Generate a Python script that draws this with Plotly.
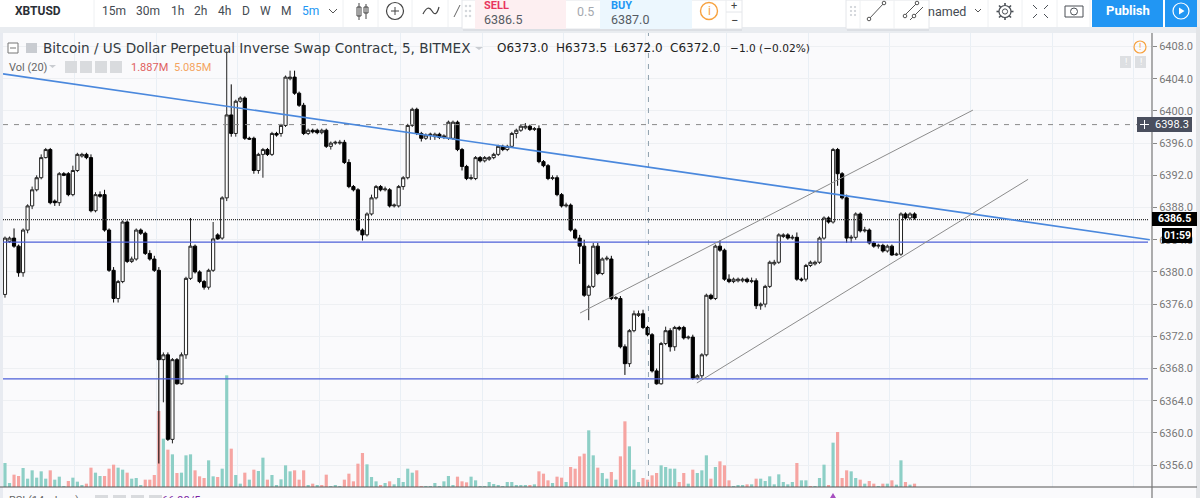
import math

import plotly.graph_objects as go

W = 1200
H = 498

# candles, one entry per 5 minute bar
opens = [
    6377.2, 6383.8, 6384.2, 6383.2, 6379.9, 6385.2, 6388.2, 6390.2, 6391.7, 6394.2,
    6395.2, 6388.8, 6388.6, 6392.2, 6392.2, 6389.6, 6392.6, 6394.4, 6394.6, 6394.2,
    6387.6, 6389.6, 6389.6, 6385.2, 6380.2, 6376.7, 6378.8, 6386.2, 6381.3, 6381.6,
    6385.2, 6384.8, 6382.3, 6381.6, 6380.2, 6369.1, 6369.7, 6359.2, 6369.1, 6366.1,
    6369.7, 6379.2, 6383.2, 6380.0, 6378.8, 6378.1, 6380.2, 6384.6, 6384.2, 6389.2,
    6399.5, 6397.2, 6401.2, 6401.6, 6396.6, 6396.6, 6392.6, 6394.6, 6395.2, 6394.6,
    6397.2, 6397.2, 6398.2, 6404.0, 6404.2, 6402.2, 6400.7, 6397.2, 6397.6, 6397.6,
    6397.3, 6397.6, 6395.6, 6396.0, 6396.0, 6396.1, 6393.6, 6390.6, 6390.2, 6385.2,
    6384.6, 6387.2, 6389.2, 6390.6, 6390.2, 6390.2, 6388.2, 6388.2, 6390.6, 6391.7,
    6398.2, 6400.2, 6397.2, 6396.6, 6397.0, 6396.8, 6397.1, 6396.7, 6396.6, 6396.6,
    6398.6, 6395.2, 6393.1, 6391.6, 6391.6, 6394.2, 6393.8, 6394.0, 6394.2, 6394.6,
    6395.6, 6395.2, 6395.6, 6397.2, 6397.6, 6397.9, 6398.1, 6397.7, 6397.8, 6393.7,
    6393.2, 6391.6, 6391.7, 6389.6, 6388.2, 6388.3, 6385.2, 6384.2, 6383.2, 6377.1,
    6378.2, 6383.2, 6379.8, 6381.6, 6381.6, 6376.7, 6376.7, 6370.7, 6368.6, 6372.7,
    6374.6, 6374.8, 6373.1, 6372.2, 6367.7, 6366.1, 6371.1, 6372.7, 6370.7, 6373.1,
    6373.1, 6371.8, 6371.9, 6366.8, 6367.1, 6369.7, 6377.1, 6376.7, 6383.2, 6382.7,
    6379.1, 6378.8, 6378.9, 6378.9, 6379.1, 6378.8, 6378.9, 6375.8, 6376.0, 6378.2,
    6381.0, 6381.2, 6384.4, 6384.6, 6384.2, 6384.3, 6379.1, 6379.1, 6380.8, 6381.0,
    6381.2, 6384.2, 6386.7, 6386.2, 6395.2, 6392.2, 6389.2, 6384.2, 6384.3, 6387.2,
    6385.1, 6385.2, 6383.6, 6383.2, 6383.3, 6382.6, 6383.2, 6382.1, 6382.2, 6387.2,
    6386.7, 6387.2,
]
closes = [
    6384.2, 6384.2, 6383.2, 6379.9, 6385.2, 6388.2, 6390.2, 6391.7, 6394.2, 6395.2,
    6388.6, 6388.6, 6392.2, 6392.0, 6389.6, 6392.6, 6394.6, 6394.6, 6394.2, 6387.6,
    6389.6, 6389.4, 6385.2, 6380.2, 6376.7, 6378.8, 6386.2, 6381.3, 6381.6, 6385.2,
    6384.8, 6382.3, 6381.6, 6380.2, 6369.1, 6369.7, 6359.2, 6369.1, 6366.1, 6369.7,
    6379.2, 6383.2, 6380.0, 6378.8, 6378.1, 6380.2, 6384.1, 6384.1, 6389.2, 6399.5,
    6397.2, 6401.2, 6401.6, 6396.6, 6396.5, 6392.6, 6394.6, 6395.2, 6394.6, 6397.2,
    6397.0, 6398.2, 6404.2, 6404.2, 6402.2, 6400.7, 6397.2, 6397.6, 6397.4, 6397.3,
    6397.6, 6395.6, 6396.0, 6396.1, 6396.1, 6393.6, 6390.6, 6390.2, 6385.2, 6384.6,
    6387.2, 6389.2, 6390.6, 6390.2, 6390.3, 6388.2, 6388.3, 6390.6, 6391.7, 6398.2,
    6400.2, 6397.2, 6396.6, 6397.0, 6397.1, 6397.1, 6396.7, 6396.9, 6398.6, 6398.6,
    6395.2, 6393.1, 6391.6, 6391.7, 6394.2, 6393.8, 6394.2, 6394.2, 6394.6, 6395.6,
    6395.2, 6395.6, 6397.2, 6397.6, 6398.1, 6398.1, 6397.7, 6397.8, 6393.7, 6393.2,
    6391.6, 6391.7, 6389.6, 6388.2, 6388.3, 6385.2, 6384.2, 6383.2, 6377.1, 6378.2,
    6383.2, 6379.8, 6381.6, 6381.7, 6376.7, 6376.8, 6370.7, 6368.6, 6372.7, 6374.8,
    6374.8, 6373.1, 6372.2, 6367.7, 6366.1, 6371.1, 6372.7, 6370.7, 6373.1, 6372.9,
    6371.8, 6371.9, 6366.8, 6367.1, 6369.7, 6377.1, 6376.7, 6383.2, 6382.7, 6379.1,
    6378.8, 6379.1, 6379.1, 6379.1, 6378.8, 6378.9, 6375.8, 6376.0, 6378.2, 6381.2,
    6381.2, 6384.6, 6384.6, 6384.2, 6384.3, 6379.1, 6379.0, 6380.8, 6381.2, 6381.2,
    6384.2, 6386.7, 6386.2, 6395.2, 6392.2, 6389.2, 6384.2, 6384.3, 6387.2, 6385.1,
    6385.2, 6383.6, 6383.2, 6383.3, 6382.6, 6383.2, 6382.1, 6382.2, 6387.2, 6386.7,
    6387.2, 6386.7,
]
highs = [
    6384.4, 6384.4, 6385.4, 6383.4, 6385.4, 6388.4, 6390.6, 6392.0, 6394.6, 6395.4,
    6395.4, 6389.0, 6392.4, 6392.4, 6392.4, 6393.2, 6394.8, 6394.8, 6394.8, 6394.6,
    6389.9, 6390.0, 6390.2, 6385.4, 6380.6, 6379.0, 6386.4, 6386.4, 6381.9, 6385.4,
    6385.4, 6385.0, 6382.7, 6382.0, 6380.6, 6370.0, 6370.0, 6369.3, 6369.3, 6370.0,
    6379.4, 6386.7, 6383.4, 6380.2, 6379.0, 6380.4, 6386.2, 6384.8, 6389.4, 6407.4,
    6403.3, 6401.4, 6401.8, 6401.8, 6396.8, 6396.8, 6394.8, 6395.4, 6395.4, 6397.4,
    6397.4, 6398.4, 6404.4, 6405.0, 6405.0, 6402.4, 6401.0, 6397.8, 6397.8, 6397.8,
    6397.8, 6397.8, 6396.2, 6396.3, 6396.4, 6396.4, 6394.0, 6390.8, 6390.4, 6385.4,
    6387.4, 6389.6, 6390.8, 6390.8, 6390.6, 6390.4, 6388.5, 6390.8, 6391.9, 6398.4,
    6400.4, 6400.4, 6397.4, 6397.2, 6397.3, 6397.3, 6397.3, 6397.1, 6398.8, 6398.8,
    6398.8, 6395.4, 6393.3, 6392.1, 6394.4, 6394.4, 6394.4, 6394.4, 6394.8, 6395.8,
    6395.8, 6395.8, 6397.4, 6397.8, 6398.3, 6398.5, 6398.3, 6398.0, 6398.2, 6393.9,
    6393.4, 6392.0, 6392.0, 6389.8, 6388.6, 6388.5, 6385.4, 6384.6, 6384.0, 6378.4,
    6383.6, 6383.6, 6381.8, 6382.0, 6382.0, 6377.0, 6377.0, 6371.0, 6372.9, 6375.2,
    6375.2, 6375.3, 6373.3, 6372.4, 6368.0, 6371.3, 6373.2, 6373.0, 6373.3, 6373.3,
    6373.3, 6372.1, 6372.2, 6367.3, 6369.9, 6377.3, 6377.3, 6383.4, 6383.9, 6382.9,
    6379.7, 6379.3, 6379.3, 6379.3, 6379.3, 6379.3, 6379.2, 6376.2, 6378.4, 6381.4,
    6381.5, 6384.8, 6384.8, 6384.8, 6384.6, 6384.9, 6379.3, 6381.0, 6381.4, 6381.4,
    6384.4, 6386.9, 6386.9, 6395.4, 6395.4, 6392.4, 6389.6, 6384.6, 6387.4, 6387.4,
    6385.6, 6385.4, 6383.8, 6383.5, 6383.5, 6383.4, 6383.4, 6382.4, 6387.4, 6387.4,
    6387.4, 6387.4,
]
lows = [
    6376.8, 6383.6, 6383.0, 6379.4, 6379.4, 6384.8, 6387.8, 6390.0, 6391.5, 6394.1,
    6388.4, 6388.2, 6388.2, 6391.9, 6389.4, 6389.4, 6392.4, 6394.2, 6394.0, 6387.4,
    6387.4, 6389.2, 6385.0, 6380.0, 6376.2, 6376.2, 6378.6, 6381.1, 6381.1, 6381.4,
    6384.6, 6382.1, 6381.4, 6380.0, 6356.2, 6363.8, 6359.0, 6358.7, 6366.0, 6366.0,
    6369.2, 6379.0, 6379.8, 6378.6, 6377.8, 6377.8, 6380.0, 6384.0, 6384.0, 6388.8,
    6396.8, 6396.8, 6401.0, 6396.4, 6396.4, 6392.2, 6392.2, 6391.7, 6394.4, 6394.4,
    6396.8, 6396.8, 6398.0, 6403.8, 6402.0, 6400.5, 6397.0, 6397.0, 6397.2, 6397.1,
    6397.1, 6395.4, 6395.2, 6395.8, 6395.8, 6393.4, 6390.4, 6390.0, 6385.0, 6383.9,
    6384.4, 6387.0, 6389.0, 6390.0, 6390.0, 6388.0, 6388.0, 6388.0, 6390.2, 6391.5,
    6398.0, 6397.0, 6396.2, 6396.4, 6396.4, 6396.4, 6396.5, 6396.5, 6396.4, 6396.4,
    6395.0, 6392.6, 6391.4, 6391.4, 6391.4, 6393.6, 6393.6, 6393.8, 6394.0, 6394.4,
    6395.0, 6395.0, 6395.4, 6396.6, 6397.4, 6397.7, 6397.5, 6397.5, 6393.5, 6393.0,
    6391.4, 6391.4, 6389.4, 6388.0, 6388.0, 6385.0, 6384.0, 6381.0, 6376.9, 6374.0,
    6378.0, 6379.6, 6379.6, 6381.4, 6376.5, 6376.5, 6370.5, 6367.2, 6368.2, 6372.5,
    6374.4, 6372.9, 6372.0, 6367.5, 6366.0, 6366.0, 6370.9, 6370.1, 6370.2, 6372.7,
    6371.6, 6371.6, 6366.6, 6366.6, 6366.8, 6369.5, 6376.5, 6376.5, 6382.5, 6378.9,
    6378.6, 6378.6, 6378.7, 6378.7, 6378.6, 6378.6, 6375.4, 6375.3, 6375.6, 6378.0,
    6380.8, 6381.0, 6384.2, 6384.0, 6384.0, 6378.9, 6378.8, 6378.8, 6380.6, 6380.8,
    6381.0, 6384.0, 6386.0, 6386.0, 6390.7, 6389.0, 6383.6, 6383.6, 6384.0, 6384.9,
    6384.9, 6383.4, 6383.0, 6382.9, 6382.4, 6382.4, 6382.0, 6382.0, 6382.0, 6386.5,
    6386.5, 6386.5,
]
volumes = [
    72, 12, 37, 33, 57, 25, 50, 28, 47, 25,
    50, 22, 31, 2, 18, 28, 16, 5, 10, 58,
    43, 33, 33, 55, 67, 58, 52, 43, 25, 27,
    5, 22, 22, 36, 228, 145, 112, 98, 42, 43,
    95, 98, 50, 32, 27, 80, 32, 30, 55, 335,
    115, 36, 10, 43, 22, 52, 48, 88, 22, 36,
    5, 23, 65, 47, 50, 22, 50, 6, 10, 6,
    6, 37, 3, 6, 3, 22, 40, 17, 70, 102,
    68, 30, 17, 5, 12, 17, 8, 27, 15, 55,
    43, 50, 3, 1, 3, 12, 1, 17, 33, 6,
    31, 17, 14, 31, 20, 1, 3, 15, 9, 6,
    1, 15, 15, 6, 6, 6, 6, 8, 47, 40,
    20, 12, 31, 28, 15, 60, 55, 92, 100, 170,
    95, 58, 42, 25, 45, 22, 92, 197, 122, 52,
    15, 27, 22, 35, 42, 65, 60, 55, 55, 15,
    42, 10, 52, 42, 50, 95, 25, 60, 77, 65,
    20, 1, 6, 5, 8, 8, 25, 25, 18, 32,
    8, 38, 15, 8, 15, 72, 20, 20, 1, 3,
    27, 67, 5, 133, 165, 27, 50, 47, 27, 22,
    10, 18, 10, 3, 10, 10, 20, 7, 80, 15,
    7, 10,
]
volume_up = [
    1, 1, 0, 0, 1, 1, 1, 1, 1, 1,
    0, 1, 1, 1, 0, 1, 1, 1, 0, 0,
    1, 1, 0, 0, 0, 1, 1, 0, 1, 1,
    1, 0, 0, 0, 0, 1, 0, 1, 0, 1,
    1, 1, 0, 0, 0, 1, 1, 0, 1, 1,
    0, 1, 1, 0, 1, 0, 1, 1, 0, 1,
    1, 1, 1, 1, 0, 0, 0, 1, 0, 1,
    0, 0, 1, 1, 1, 0, 0, 0, 0, 0,
    1, 1, 1, 0, 1, 0, 1, 1, 1, 1,
    1, 0, 0, 1, 1, 1, 1, 1, 1, 1,
    0, 0, 0, 1, 1, 1, 1, 1, 1, 1,
    1, 1, 1, 1, 1, 1, 0, 1, 0, 0,
    0, 1, 0, 0, 1, 0, 0, 0, 0, 1,
    1, 0, 1, 1, 0, 1, 0, 0, 1, 1,
    1, 0, 0, 0, 0, 1, 1, 1, 1, 0,
    0, 1, 0, 1, 1, 1, 0, 1, 0, 0,
    0, 1, 1, 1, 0, 1, 0, 1, 1, 1,
    1, 1, 1, 1, 1, 0, 1, 1, 0, 1,
    1, 1, 0, 1, 0, 0, 0, 1, 1, 0,
    1, 0, 0, 1, 0, 1, 0, 1, 1, 0,
    1, 0,
]
assert len({len(opens), len(closes), len(highs), len(lows), len(volumes), len(volume_up)}) == 1
bars = list(range(len(closes)))

price_ticks = [6408, 6404, 6400, 6396, 6392, 6388, 6384, 6380, 6376, 6372, 6368, 6364, 6360, 6356]
price_labels = ["%.1f" % p for p in price_ticks]

# drawn lines, bar index / price pairs
trend_x = [-0.44, 253]
trend_y = [6404.6, 6384.0]
channel_up_x = [127.1, 213.9]
channel_up_y = [6374.9, 6400.1]
channel_low_x = [152.9, 226.1]
channel_low_y = [6366.2, 6391.5]
level_x = [-0.44, 252.6]
support_top = 6383.7
support_low = 6366.7
last_price = 6386.5
cross_price = 6398.3
cross_bar = 142.2

# plot box in pixels of the page
LEFT, RIGHT, TOP, BOTTOM = 3, 1152, 33, 487
PRICE_RANGE = [6353.28, 6409.68]
BAR_RANGE = [-0.44, 253.48]
VOL_RANGE = [0, 1362]


def px(x):
    return x / W


def py(y):
    return 1 - y / H


shapes = []
notes = []


def rect(x0, y0, x1, y1, fill, line=None):
    shapes.append(dict(type="rect", xref="paper", yref="paper", x0=px(x0), x1=px(x1), y0=py(y0), y1=py(y1),
                       fillcolor=fill, line=dict(color=line or fill, width=1 if line else 0)))


def seg(x0, y0, x1, y1, color, width=1, dash="solid"):
    shapes.append(dict(type="line", xref="paper", yref="paper", x0=px(x0), x1=px(x1), y0=py(y0), y1=py(y1),
                       line=dict(color=color, width=width, dash=dash)))


def circle(cx, cy, r, color, width=1.2, fill="rgba(0,0,0,0)"):
    shapes.append(dict(type="circle", xref="paper", yref="paper", x0=px(cx - r), x1=px(cx + r),
                       y0=py(cy - r), y1=py(cy + r), fillcolor=fill, line=dict(color=color, width=width)))


def text(x, y, s, size=12, color="#333", anchor="left", font="Roboto"):
    notes.append(dict(xref="paper", yref="paper", x=px(x), y=py(y), text=s, showarrow=False, xanchor=anchor,
                      yanchor="middle", align=anchor, borderpad=0, font=dict(size=size, color=color, family=font)))


# page furniture under and around the chart
rect(0, 0, W, 33, "#e9ecf0")
rect(0, 0, 1197, 27, "#ffffff")
rect(0, 33, LEFT, H, "#e8ebf1")
rect(1196, 27, W, H, "#e3e5e8")
for x in [94, 343, 378, 412, 448, 988, 1022, 1057, 1090]:
    seg(x, 0, x, 27, "#eef0f2")

seg(0, 487, 1197, 487, "#555555")
seg(RIGHT, 33, RIGHT, H, "#777777", 1.2)

# top toolbar
text(14, 11, "<b>XBTUSD</b>", 12, "#2b2f36")
for x, s in [(101, "15m"), (135, "30m"), (170, "1h"), (193, "2h"), (217, "4h"), (241, "D"), (259, "W"), (280, "M")]:
    text(x, 11, s, 12, "#444a52")
text(301, 11, "5m", 12, "#2196f3")
seg(329, 9, 333, 13, "#555", 1)
seg(333, 13, 337, 9, "#555", 1)
# candle icon
rect(357, 7, 361, 16, "#ffffff", "#444")
seg(359, 3, 359, 20, "#444")
rect(364, 7, 368, 13, "#ffffff", "#444")
seg(366, 4, 366, 19, "#444")
circle(395, 11, 8.5, "#444")
seg(391, 11, 399, 11, "#444")
seg(395, 7, 395, 15, "#444")
shapes.append(dict(type="path", xref="paper", yref="paper", line=dict(color="#444", width=1.2),
                   path="M %f %f Q %f %f %f %f T %f %f" % (px(423), py(14), px(428), py(4), px(432), py(11), px(439), py(7))))
seg(454, 17, 460, 5, "#666", 1)

# floating order panel
rect(462, 0, 742, 29, "#ffffff", "#e4e6ea")
rect(463, 29, 742, 31, "#dcdfe4")
rect(475, 0, 566, 29, "#fdeff1")
rect(600, 0, 692, 29, "#ecf7fe")
for y in [6, 11, 16]:
    circle(466, y, 0.8, "#cfd3d8", 1, "#cfd3d8")
    circle(470, y, 0.8, "#cfd3d8", 1, "#cfd3d8")
text(483, 5, "<b>SELL</b>", 11, "#e8355e")
text(483, 19, "6386.5", 12.5, "#555b63")
text(576, 12, "0.5", 12.5, "#a5a9af")
text(610, 5, "<b>BUY</b>", 11, "#2196f3")
text(610, 19, "6387.0", 12.5, "#555b63")
circle(709, 11, 8.5, "#f7a13e", 1.4)
text(709, 11, "i", 12, "#f7a13e", "center")
seg(726, 0, 726, 29, "#eceef0")
seg(726, 12, 742, 12, "#e4e6ea")
text(734, 5, "+", 11, "#444", "center")
text(734, 20, "−", 13, "#444", "center")

# right hand toolbar
text(927, 11, "named", 12.5, "#444a52")
seg(975, 9, 978, 12, "#555", 1)
seg(978, 12, 981, 9, "#555", 1)
circle(1005, 11.5, 6, "#4a4f55", 1.2)
circle(1005, 11.5, 2.6, "#4a4f55", 1)
for k in range(8):
    a = k * math.pi / 4
    seg(1005 + 6 * math.cos(a), 11.5 + 6 * math.sin(a), 1005 + 8.5 * math.cos(a), 11.5 + 8.5 * math.sin(a), "#4a4f55", 1.6)
for a, b, c, d in [(1033, 5, 1037, 9), (1048, 5, 1044, 9), (1033, 18, 1037, 14), (1048, 18, 1044, 14)]:
    seg(a, b, c, d, "#4a4f55", 1)
rect(1065, 6, 1083, 17, "#ffffff", "#4a4f55")
circle(1074, 11.5, 3.5, "#4a4f55", 1)
rect(1092, 0, 1163, 27, "#2196f3")
rect(1165, 0, 1197, 27, "#2196f3")
text(1127.5, 10, "<b>Publish</b>", 13, "#ffffff", "center")
circle(1181, 11, 8, "#ffffff", 1.2)
shapes.append(dict(type="path", xref="paper", yref="paper", fillcolor="#ffffff", line=dict(width=0),
                   path="M %f %f L %f %f L %f %f Z" % (px(1179), py(7.5), px(1184.5), py(11), px(1179), py(14.5))))

# drawing tools panel
rect(846, 0, 929, 29, "#ffffff", "#e4e6ea")
rect(847, 29, 929, 31, "#dcdfe4")
seg(860, 0, 860, 29, "#eef0f2")
seg(894, 0, 894, 29, "#eef0f2")
for y in [7, 11, 15]:
    circle(851, y, 0.7, "#cfd3d8", 1, "#cfd3d8")
    circle(855, y, 0.7, "#cfd3d8", 1, "#cfd3d8")
seg(869, 19, 884, 3, "#555")
circle(869, 19, 1.8, "#555", 1, "#ffffff")
circle(884, 3, 1.8, "#555", 1, "#ffffff")
seg(903, 17, 917, 3, "#555")
seg(910, 20, 923, 7, "#555")
circle(905, 16, 1.8, "#555", 1, "#ffffff")
circle(917, 3, 1.8, "#555", 1, "#ffffff")
circle(914, 16, 1.8, "#555", 1, "#ffffff")

# legend rows
rect(8, 43, 18, 53, "#ffffff", "#777")
seg(10, 48, 16, 48, "#777")
rect(26, 43, 37, 53, "#c9ccd1")
text(42, 48, "Bitcoin / US Dollar Perpetual Inverse Swap Contract, 5, BITMEX", 13.6, "#333a40", font="DejaVu Sans")
shapes.append(dict(type="path", xref="paper", yref="paper", fillcolor="#c9ccd1", line=dict(width=0),
                   path="M %f %f L %f %f L %f %f Z" % (px(475), py(47), px(483), py(47), px(479), py(50))))
ohlc_labels = [(496, "O", "6373.0"), (555, "H", "6373.5"), (613, "L", "6372.0"), (669, "C", "6372.0")]
for x, head, val in ohlc_labels:
    text(x, 48, head + val, 12, "#222", font="DejaVu Sans")
text(729, 48, "−1.0 (−0.02%)", 10.6, "#222", font="DejaVu Sans")

text(8, 67, "Vol (20)", 11, "#666")
shapes.append(dict(type="path", xref="paper", yref="paper", fillcolor="#c9ccd1", line=dict(width=0),
                   path="M %f %f L %f %f L %f %f Z" % (px(49), py(65), px(56), py(65), px(52.5), py(68))))
for x in [65, 80, 95, 110]:
    rect(x, 61, x + 12, 73, "#d9dbde")
text(130, 67, "1.887M", 11, "#e0605e")
text(173, 67, "5.085M", 11, "#f4a460")

# warning and lock icons by the scale
circle(1140, 47, 6, "#f7a13e", 1.2)
text(1140, 47, "!", 9, "#f7a13e", "center")
rect(1120, 56, 1131, 68, "#dddfe2")
rect(1135, 56, 1146, 68, "#dddfe2")
text(1125.5, 62, "!", 9, "#ffffff", "center")
text(1140.5, 62, "!", 9, "#ffffff", "center")

# price scale labels
rect(1137, 117, 1152, 132, "#4a4f5e")
seg(1140, 124.5, 1149, 124.5, "#ffffff")
seg(1144.5, 120, 1144.5, 129, "#ffffff")
rect(1152, 117, 1192, 132, "#4a4f5e")
text(1172, 124.5, "6398.3", 11, "#ffffff", "center")
rect(1152, 212, 1197, 226, "#000000")
text(1174, 219, "<b>6386.5</b>", 10.5, "#ffffff", "center")
rect(1162, 228, 1192, 243, "#000000")
text(1177, 235.5, "<b>01:59</b>", 10.5, "#ffffff", "center")

# cut off RSI pane title at the bottom edge
text(8, 500, "RSI (14, close)", 11, "#666")
for x in [95, 113, 131, 149]:
    rect(x, 495, x + 13, H, "#d9dbde")
text(161, 500, "66.98/5", 11, "#7b1fa2")
shapes.append(dict(type="path", xref="paper", yref="paper", fillcolor="#a64fc0", line=dict(width=0),
                   path="M %f %f L %f %f L %f %f Z" % (px(830), py(H), px(833), py(493), px(836), py(H))))

fig = go.Figure()
fig.add_trace(go.Bar(
    x=bars, y=volumes, xaxis="x", yaxis="y",
    marker=dict(color=["#8dcfc6" if u else "#f6a5a2" for u in volume_up], line=dict(width=0)),
    hoverinfo="skip", showlegend=False,
))
fig.add_trace(go.Candlestick(
    x=bars, open=opens, high=highs, low=lows, close=closes, xaxis="x", yaxis="y2",
    increasing=dict(fillcolor="#ffffff", line=dict(color="#222222", width=1)),
    decreasing=dict(fillcolor="#000000", line=dict(color="#000000", width=1)),
    whiskerwidth=0, hoverinfo="skip", showlegend=False,
))


def add_line(xs, ys, color, width, dash="solid"):
    fig.add_trace(go.Scatter(x=xs, y=ys, mode="lines", xaxis="x", yaxis="y2", hoverinfo="skip", showlegend=False,
                             line=dict(color=color, width=width, dash=dash)))


add_line(level_x, [cross_price, cross_price], "#8a8a8a", 1, "5px,6px")
add_line(level_x, [last_price, last_price], "#333333", 1.2, "1px,1px")
add_line([cross_bar, cross_bar], PRICE_RANGE, "#8fa0ad", 1, "5px,6px")
add_line(level_x, [support_top, support_top], "#4d5fd8", 1.2)
add_line(level_x, [support_low, support_low], "#4d5fd8", 1.2)
add_line(trend_x, trend_y, "#4a88dd", 1.6)
add_line(channel_up_x, channel_up_y, "#8c8c8c", 1)
add_line(channel_low_x, channel_low_y, "#8c8c8c", 1)

fig.update_layout(
    width=W, height=H,
    margin=dict(l=0, r=0, t=0, b=0),
    paper_bgcolor="#fafafc",
    plot_bgcolor="#fafafc",
    barmode="overlay",
    bargap=0.3,
    boxgap=0,
    showlegend=False,
    font=dict(family="Roboto"),
    xaxis=dict(
        domain=[px(LEFT), px(RIGHT)], range=BAR_RANGE, rangeslider=dict(visible=False),
        tick0=15.47, dtick=18, showticklabels=False, ticks="", showgrid=True, gridcolor="#e9eff5",
        zeroline=False, showline=False,
    ),
    yaxis=dict(
        domain=[py(BOTTOM), py(TOP)], range=VOL_RANGE, showticklabels=False, ticks="", showgrid=False,
        zeroline=False,
    ),
    yaxis2=dict(
        domain=[py(BOTTOM), py(TOP)], range=PRICE_RANGE, overlaying="y", anchor="x", side="right",
        tickmode="array", tickvals=price_ticks, ticktext=price_labels, ticks="outside", ticklen=4,
        tickcolor="#888888", tickfont=dict(size=11, color="#777777", family="Roboto"),
        showgrid=True, gridcolor="#eef0f3", zeroline=False, showline=False,
    ),
    shapes=shapes,
    annotations=notes,
)

fig.write_html("out.html", config=dict(displayModeBar=False),
               post_script="document.body.style.margin='0';document.body.style.overflow='hidden';")
